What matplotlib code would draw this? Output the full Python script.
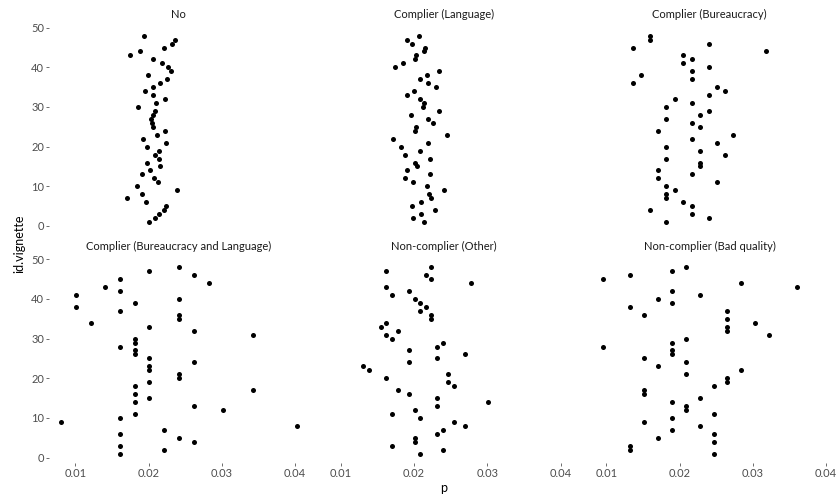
import matplotlib
matplotlib.use("Agg")
import matplotlib.pyplot as plt
import numpy as np

plt.rcParams['font.family'] = ['Lato', 'DejaVu Sans']

ids = np.arange(1, 49)

groups = ["No", "Complier (Language)", "Complier (Bureaucracy)",
          "Complier (Bureaucracy and Language)", "Non-complier (Other)",
          "Non-complier (Bad quality)"]

# p per vignette, id 1..48
p_no = [0.02011, 0.02089, 0.02144, 0.02212, 0.02243, 0.01966, 0.01706, 0.01915,
        0.02390, 0.01843, 0.02130, 0.02075, 0.01906, 0.02021, 0.02161, 0.01984,
        0.02138, 0.02083, 0.02138, 0.01984, 0.02234, 0.01929, 0.02116, 0.02230,
        0.02056, 0.02042, 0.02029, 0.02062, 0.02093, 0.01856, 0.02103, 0.02220,
        0.02056, 0.01947, 0.02056, 0.02161, 0.02257, 0.01997, 0.02302, 0.02271,
        0.02189, 0.02056, 0.01741, 0.01884, 0.02212, 0.02316, 0.02363, 0.01933]

p_lang = [0.02135, 0.01989, 0.02099, 0.02280, 0.01971, 0.02099, 0.02226, 0.02208,
          0.02409, 0.02171, 0.01989, 0.01880, 0.02212, 0.01897, 0.02044, 0.02007,
          0.02212, 0.01880, 0.02081, 0.01825, 0.02190, 0.01715, 0.02445, 0.02012,
          0.02026, 0.02263, 0.02190, 0.01952, 0.02341, 0.02116, 0.02135, 0.02081,
          0.01897, 0.01993, 0.02300, 0.02190, 0.02081, 0.02171, 0.02341, 0.01733,
          0.01848, 0.02007, 0.02026, 0.02135, 0.02149, 0.01975, 0.01897, 0.02062]

p_bur = [0.01821, 0.02395, 0.02163, 0.01592, 0.02163, 0.02049, 0.01821, 0.01821,
         0.01935, 0.01821, 0.02505, 0.01707, 0.02163, 0.01707, 0.02277, 0.02277,
         0.01821, 0.02614, 0.02277, 0.01821, 0.02505, 0.02163, 0.02728, 0.01707,
         0.02277, 0.02163, 0.01821, 0.02277, 0.02395, 0.01821, 0.02163, 0.01935,
         0.02395, 0.02614, 0.02505, 0.01369, 0.02163, 0.01479, 0.02163, 0.02395,
         0.02049, 0.02163, 0.02049, 0.03185, 0.01369, 0.02395, 0.01592, 0.01592]

p_bur_lang = [0.0161, 0.0221, 0.0161, 0.0262, 0.0241, 0.0161, 0.0221, 0.0402,
              0.0080, 0.0161, 0.0181, 0.0302, 0.0262, 0.0181, 0.0201, 0.0181,
              0.0342, 0.0181, 0.0201, 0.0241, 0.0241, 0.0201, 0.0201, 0.0262,
              0.0201, 0.0181, 0.0181, 0.0161, 0.0181, 0.0181, 0.0342, 0.0262,
              0.0201, 0.0121, 0.0241, 0.0241, 0.0161, 0.0101, 0.0181, 0.0241,
              0.0101, 0.0161, 0.0141, 0.0282, 0.0161, 0.0262, 0.0201, 0.0241]

p_other = [0.02081, 0.02390, 0.01693, 0.02007, 0.02007, 0.02313, 0.02390, 0.02696,
           0.02546, 0.02081, 0.01693, 0.02007, 0.02313, 0.03006, 0.02313, 0.01930,
           0.01774, 0.02546, 0.02468, 0.01620, 0.02468, 0.01387, 0.01309, 0.01930,
           0.02313, 0.02696, 0.01930, 0.02313, 0.02390, 0.01693, 0.01620, 0.01774,
           0.01542, 0.01620, 0.02235, 0.02235, 0.02081, 0.02158, 0.02081, 0.02007,
           0.01693, 0.01930, 0.01620, 0.02778, 0.02235, 0.02158, 0.01620, 0.02235]

p_bad = [0.02464, 0.01328, 0.01328, 0.02464, 0.01707, 0.02464, 0.01899, 0.02277,
         0.01520, 0.01899, 0.02464, 0.02085, 0.02085, 0.01899, 0.02277, 0.01520,
         0.01520, 0.02464, 0.02651, 0.02651, 0.02085, 0.02843, 0.01707, 0.02085,
         0.01520, 0.01899, 0.01899, 0.00949, 0.01899, 0.02085, 0.03220, 0.02651,
         0.02651, 0.03034, 0.02651, 0.01520, 0.02651, 0.01328, 0.01899, 0.01707,
         0.02277, 0.01899, 0.03599, 0.02843, 0.00949, 0.01328, 0.01899, 0.02085]

series = [p_no, p_lang, p_bur, p_bur_lang, p_other, p_bad]

W, H = 837, 495
fig = plt.figure(figsize=(W / 100, H / 100), dpi=100)
fig.patch.set_facecolor("white")

# shared scales with ggplot-style 5% expansion
allp = np.concatenate(series)
xpad = 0.05 * (allp.max() - allp.min())
xlim = (allp.min() - xpad, allp.max() + xpad)
ylim = (1 - 0.05 * 47, 48 + 0.05 * 47)

lefts = [48.9, 314.4, 579.9]
tops = [26.3, 257.9]
pw, ph = 259.5, 205.0
grey = "#4d4d4d"

for i, (name, vals) in enumerate(zip(groups, series)):
    r, c = divmod(i, 3)
    ax = fig.add_axes([lefts[c] / W, 1 - (tops[r] + ph) / H, pw / W, ph / H])
    ax.scatter(vals, ids, s=13, color="black", linewidths=0, zorder=3)
    ax.set_xlim(xlim)
    ax.set_ylim(ylim)
    for sp in ax.spines.values():
        sp.set_visible(False)
    ax.set_xticks([0.01, 0.02, 0.03, 0.04])
    ax.set_xticklabels(["0.01", "0.02", "0.03", "0.04"])
    ax.set_yticks([0, 10, 20, 30, 40, 50])
    ax.tick_params(length=2.0, width=0.6, color="#555555", labelcolor=grey,
                   labelsize=8, pad=1.5)
    if r == 0:
        ax.tick_params(axis="x", bottom=False, labelbottom=False)
    if c > 0:
        ax.tick_params(axis="y", left=False, labelleft=False)
    ax.text(0.5, 1 + 11.5 / ph, name, transform=ax.transAxes, ha="center",
            va="center", fontsize=8, color="#1a1a1a")

fig.text(19.5 / W, 1 - 244 / H, "id.vignette", rotation=90, ha="center",
         va="center", fontsize=9, color="black")
fig.text(444 / W, 1 - 488 / H, "p", ha="center", va="center", fontsize=9,
         color="black")

fig.savefig("out.png", dpi=100, facecolor="white")
